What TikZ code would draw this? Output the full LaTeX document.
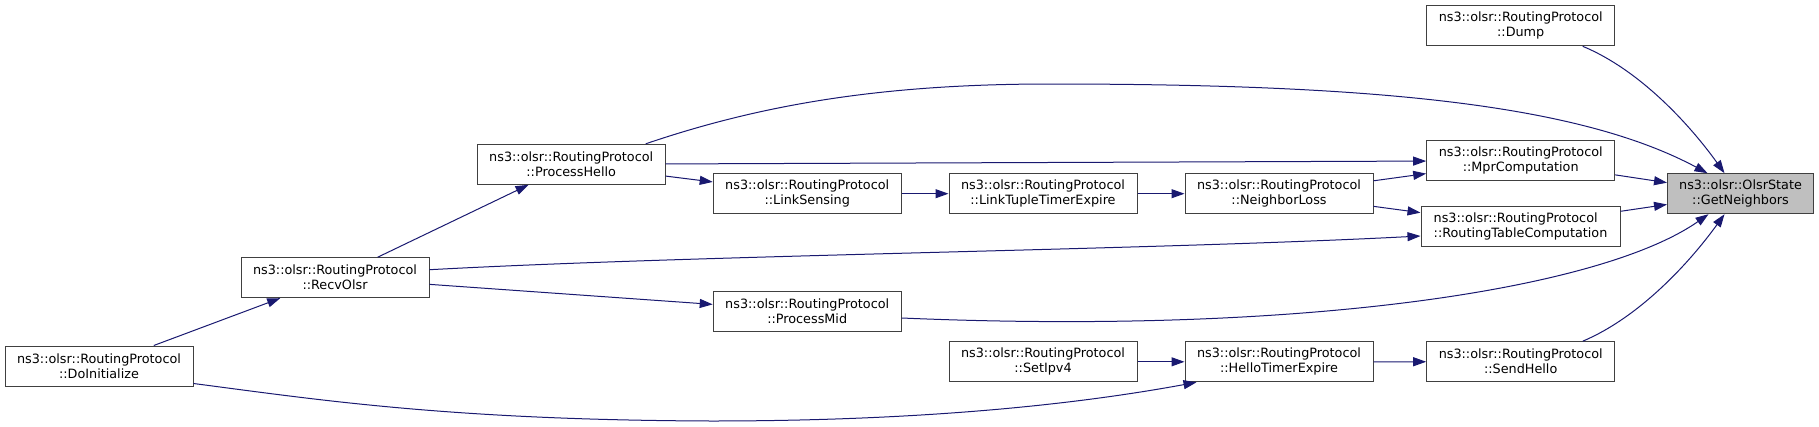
\documentclass[tikz,border=0pt]{standalone}
\usepackage{fontspec}
\setmainfont{DejaVu Sans}
\usetikzlibrary{arrows.meta,calc}
\definecolor{edgeblue}{HTML}{191970}
\definecolor{gnfill}{HTML}{BFBFBF}
\begin{document}
\begin{tikzpicture}[x=1pt,y=-1pt,
 fn/.style={draw=black!75, line width=1pt, minimum width=188pt, minimum height=40pt, inner sep=0pt, align=center, font=\fontsize{12.8}{15}\selectfont},
 call/.style={draw=edgeblue, line width=1pt, -{Triangle[length=13pt,width=9pt]}}]
\useasboundingbox (0,0) rectangle (1819,426);
\node[fn] (di) at (99,366) {ns3::olsr::RoutingProtocol\\::DoInitialize};
\node[fn] (ro) at (335,277.7) {ns3::olsr::RoutingProtocol\\::RecvOlsr};
\node[fn] (ph) at (571.2,164.3) {ns3::olsr::RoutingProtocol\\::ProcessHello};
\node[fn] (ls) at (807.2,193.7) {ns3::olsr::RoutingProtocol\\::LinkSensing};
\node[fn] (pm) at (807.2,311) {ns3::olsr::RoutingProtocol\\::ProcessMid};
\node[fn] (lt) at (1043,193.7) {ns3::olsr::RoutingProtocol\\::LinkTupleTimerExpire};
\node[fn] (si) at (1043,361.8) {ns3::olsr::RoutingProtocol\\::SetIpv4};
\node[fn] (nl) at (1279,193.7) {ns3::olsr::RoutingProtocol\\::NeighborLoss};
\node[fn] (ht) at (1279,361.8) {ns3::olsr::RoutingProtocol\\::HelloTimerExpire};
\node[fn] (dump) at (1520.7,25.8) {ns3::olsr::RoutingProtocol\\::Dump};
\node[fn] (mpr) at (1520.7,160.7) {ns3::olsr::RoutingProtocol\\::MprComputation};
\node[fn, minimum width=199pt, align=left] (rtc) at (1520.5,226) {ns3::olsr::RoutingProtocol\\::RoutingTableComputation};
\node[fn] (sh) at (1520.7,361.7) {ns3::olsr::RoutingProtocol\\::SendHello};
\node[fn, minimum width=146pt, fill=gnfill] (gn) at (1740.5,193.7) {ns3::olsr::OlsrState\\::GetNeighbors};

\draw[call] (di) -- (ro);
\draw[call] (ro) -- (ph);
\draw[call] (ph) -- (ls);
\draw[call] (ls) -- (lt);
\draw[call] (lt) -- (nl);
\draw[call] (ph) -- (mpr);
\draw[call] (nl) -- (mpr);
\draw[call] (nl) -- (rtc);
\draw[call] (ro) -- (pm);
\draw[call] ($(ro.east)+(0,-8)$) .. controls (700,255) and (1150,250) .. ($(rtc.west)+(0,10)$);
\draw[call] (si) -- (ht);
\draw[call] ($(di.east)+(0,17.5)$) .. controls (320,400) and (450,420) .. (711,421) .. controls (950,421) and (1100,400) .. ($(ht.south west)+(12,0)$);
\draw[call] (ht) -- (sh);
\draw[call] (mpr) -- (gn);
\draw[call] (rtc) -- (gn);
\draw[call] ($(dump.south)+(62,0)$) .. controls (1640,70) and (1690,125) .. ($(gn.north)+(-16,0)$);
\draw[call] ($(ph.north)+(74.5,0)$) .. controls (760,105) and (880,84) .. (1050,84) .. controls (1380,84) and (1580,105) .. ($(gn.north)+(-33,0)$);
\draw[call] ($(pm.east)+(0,7)$) .. controls (1300,335) and (1600,290) .. ($(gn.south)+(-32,0)$);
\draw[call] ($(sh.north)+(62,0)$) .. controls (1640,317) and (1690,262) .. ($(gn.south)+(-16,0)$);
\end{tikzpicture}
\end{document}
